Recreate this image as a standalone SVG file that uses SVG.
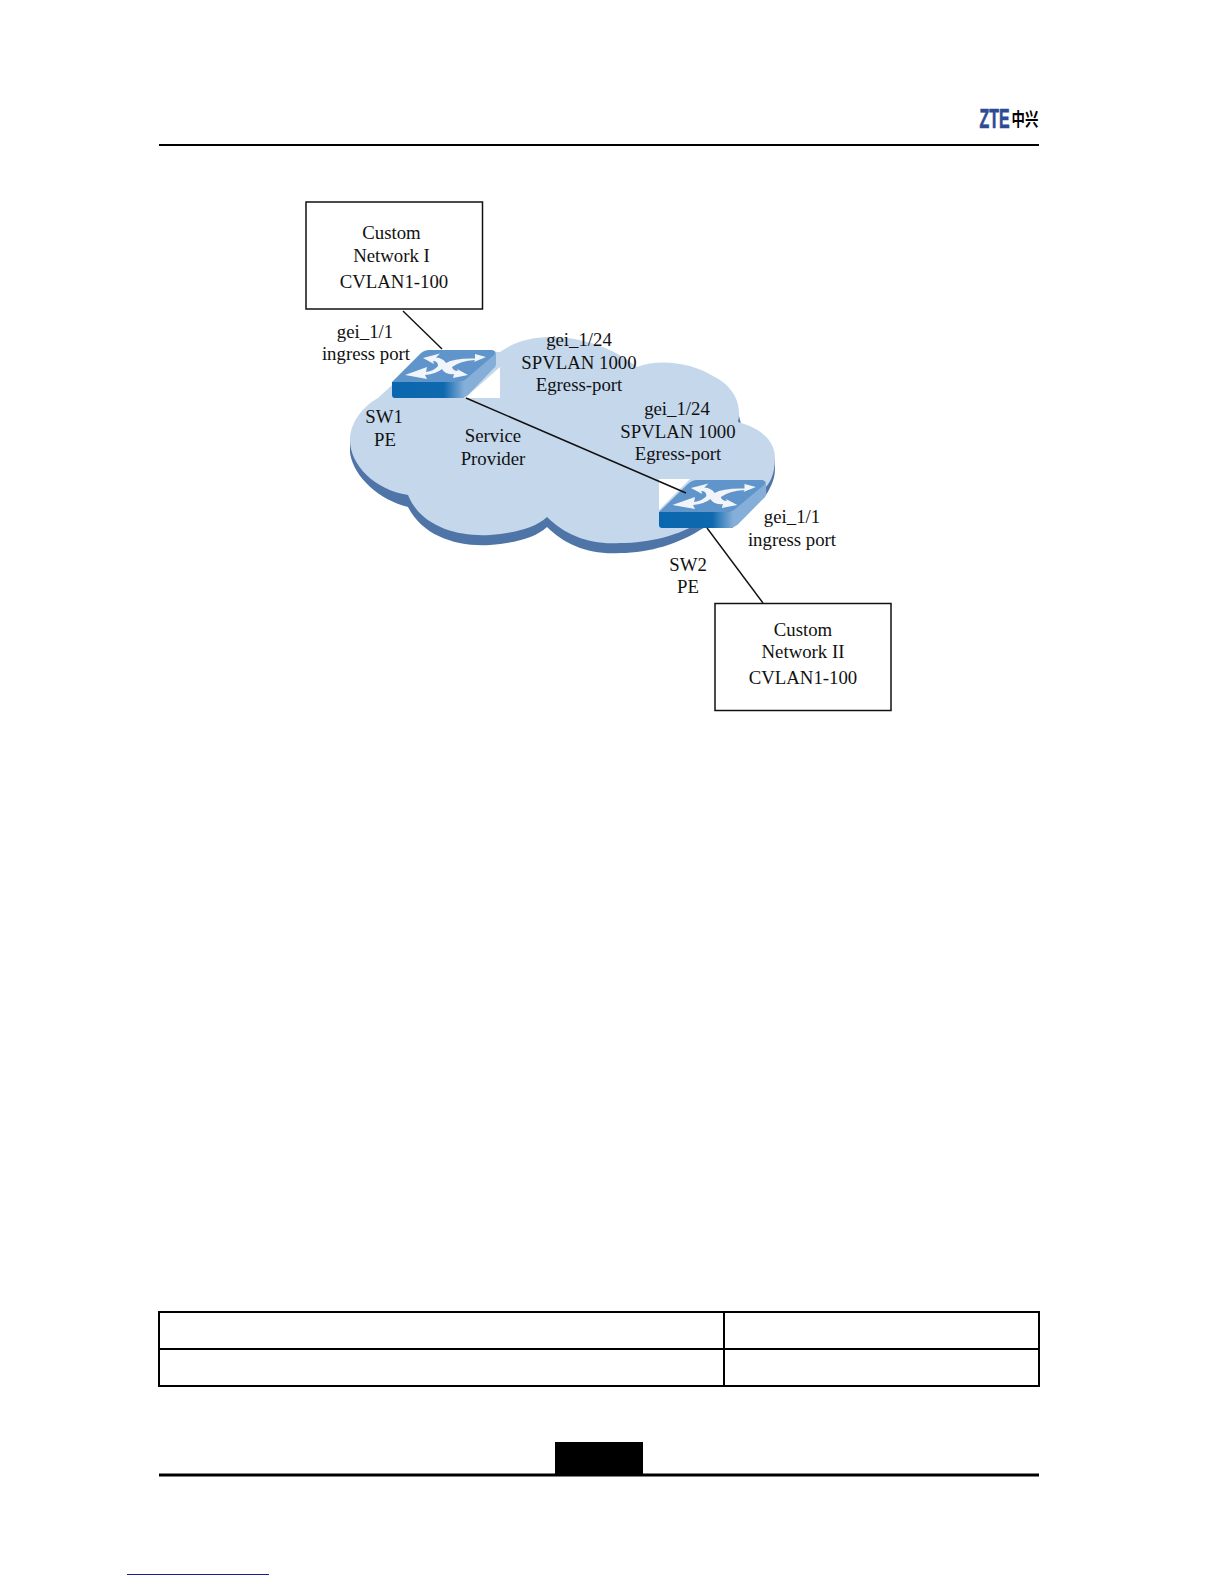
<svg xmlns="http://www.w3.org/2000/svg" width="1224" height="1584" viewBox="0 0 1224 1584">
<style>
text{font-family:"Liberation Serif","Times New Roman",serif;font-size:18.8px;fill:#111;text-anchor:middle}
.box{fill:#fff;stroke:#111;stroke-width:1.5}
.conn{stroke:#111;stroke-width:1.4;fill:none}
.rule{stroke:#000;fill:none}
.top{fill:#5f95ca}
.side{fill:#85aed8}
.arrow{fill:#f1f5fa}
</style>
<defs>
<linearGradient id="fr" x1="0" x2="1" y1="0" y2="0"><stop offset="0" stop-color="#0a66ae"/><stop offset=".72" stop-color="#0f69ae"/><stop offset="1" stop-color="#85aed8"/></linearGradient>
<g id="switch">
<path class="side" d="M68 32 L100 1 Q104 0 104 5 L104 14 Q104 17 101 19 L76 45 Q72 48 68 48 Z"/>
<path class="top" d="M0 32 L28 4 Q32 0 37 0 L100 0 Q105 1 102 5 L74 29 Q71 32 66 32 Z"/>
<path fill="url(#fr)" d="M0 32 H72 V48 H3 Q0 48 0 45 Z"/>
<path class="arrow" d="M31 8 L48 3.500 L44 7.500 Q51 8 54 13 Q62 8 83 8.500 L83 4 L94 7 L82 12 L83 10 Q68 11 60 17 Q61 21 66 21 L65 19 L76 25 L61 28 L62 24 Q53 25 50 19 Q44 24 33 25 L35 29 L13 25 L35 17 L34 22 Q42 21 46 16 Q46 11 41 11 L42 14 Z"/>
</g>
</defs>
<g id="page">
<line class="rule" x1="159" y1="145" x2="1039" y2="145" stroke-width="2"/>
<g id="logo">
<text x="994.500" y="128" style="font-family:'Liberation Sans',sans-serif;font-weight:bold;font-size:28px;fill:#2c4a96;stroke:#2c4a96;stroke-width:.7" textLength="30" lengthAdjust="spacingAndGlyphs">ZTE</text>
<text transform="translate(1025,126) scale(1,1.35)" style="font-family:'Noto Sans CJK SC',sans-serif;font-weight:bold;font-size:13.4px;fill:#000">中兴</text>
</g>
</g>
<g id="cloud">
<path fill="#4f75a8" d="M350 440 L350 453 C354 478 380 500 408 507 C422 535 455 547 490 545 C515 543 535 538 547 527 C565 545 590 555 620 553 C650 553 680 543 700 530 L766 495 C772 485 775 478 775 468 L775 458 L350 440 Z"/>
<path fill="#4f75a8" d="M735 425 L738 412 L741 424 Z"/>
<path fill="#c4d7eb" d="M378 398 C360 408 350 425 350 440 C350 465 375 490 408 495 C420 525 455 537 490 535 C515 533 535 528 547 517 C565 535 590 545 620 543 C650 543 680 535 700 522 L766 487 C772 480 775 470 775 458 C775 440 760 428 738 422 C742 405 735 387 713 376 C692 363 660 358 637 367 C620 353 590 337 550 337 C530 337 512 343 500 352 L430 350 Z"/>
<path fill="#fff" d="M500 367 L500 398 L465 398 Z"/>
<path fill="#fff" d="M659 479 L690 479 L659 510 Z"/>
</g>
<g id="sw1"><use href="#switch" transform="translate(392,350)"/><text x="384" y="423">SW1</text><text x="385" y="446">PE</text></g>
<g id="sw2"><use href="#switch" transform="translate(659,480) scale(1.03,1)"/><text x="688" y="571">SW2</text><text x="688" y="593">PE</text></g>
<g id="connectors">
<line class="conn" x1="403" y1="311" x2="442" y2="349"/>
<line class="conn" x1="466" y1="398" x2="686" y2="493"/>
<line class="conn" x1="707" y1="528" x2="763" y2="603"/>
</g>
<g id="network1"><rect class="box" x="306" y="202" width="176.500" height="107"/><text x="391.500" y="239">Custom</text><text x="391.500" y="262">Network I</text><text x="394" y="288">CVLAN1-100</text></g>
<g id="network2"><rect class="box" x="715" y="603.500" width="176" height="107"/><text x="803" y="635.500">Custom</text><text x="803" y="658">Network II</text><text x="803" y="684">CVLAN1-100</text></g>
<g id="labels">
<text x="365" y="338">gei_1/1</text><text x="366" y="360">ingress port</text>
<text x="493" y="442">Service</text><text x="493" y="465">Provider</text>
<text x="579" y="346">gei_1/24</text><text x="579" y="369">SPVLAN 1000</text><text x="579" y="391">Egress-port</text>
<text x="677" y="415">gei_1/24</text><text x="678" y="438">SPVLAN 1000</text><text x="678" y="460">Egress-port</text>
<text x="792" y="523">gei_1/1</text><text x="792" y="546">ingress port</text>
</g>
<g id="footer">
<path class="rule" stroke-width="2" d="M159 1312 H1039 V1386 H159 Z M159 1349 H1039 M724 1312 V1386"/>
<rect x="555" y="1442" width="88" height="33" fill="#000"/>
<line class="rule" x1="159" y1="1475" x2="1039" y2="1475" stroke-width="3"/>
<line x1="127" y1="1574.500" x2="269" y2="1574.500" stroke="#1a1a9a" stroke-width="1"/>
</g>
</svg>
